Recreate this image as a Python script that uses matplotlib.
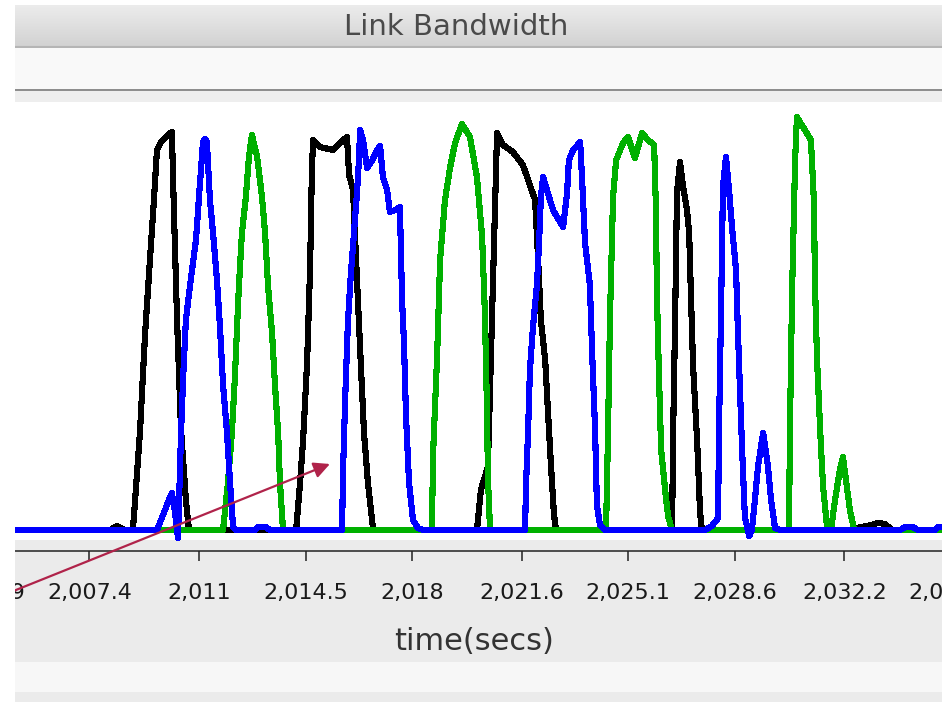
import matplotlib
matplotlib.use("Agg")
import matplotlib.pyplot as plt
import numpy as np
from matplotlib.patches import Rectangle
from matplotlib.ticker import FixedLocator, FuncFormatter

plt.rcParams["font.family"] = ["DejaVu Sans"]

# ---- per-flow link bandwidth samples: time (s) and bandwidth (Mbps) ----
black_t = [2004.96, 2008.08, 2008.31, 2008.54, 2008.83, 2009.06, 2009.23, 2009.39, 2009.52, 2009.62,
           2009.75, 2009.95, 2010.11, 2010.18, 2010.28, 2010.41, 2010.57, 2010.67,
           2014.19, 2014.32, 2014.42, 2014.55, 2014.65, 2014.71, 2014.75, 2014.98, 2015.40, 2015.86,
           2015.93, 2016.06, 2016.12, 2016.22, 2016.32, 2016.42, 2016.55, 2016.72,
           2020.13, 2020.26, 2020.49, 2020.79, 2020.99, 2021.31, 2021.64, 2021.87, 2022.04, 2022.14,
           2022.23, 2022.37, 2022.46, 2022.56, 2022.66, 2022.73,
           2026.54, 2026.57, 2026.64, 2026.70, 2026.80, 2026.90, 2027.03, 2027.10, 2027.16, 2027.23,
           2027.36, 2027.46, 2027.52,
           2032.38, 2032.71, 2032.98, 2033.30, 2033.53, 2033.76, 2035.41]
black_bw = [0, 0, 1.0, 0, 0, 23.7, 48.0, 65.9, 80.5, 92.7, 94.6, 96.1, 97.1, 76.8, 51.2, 24.4, 7.3, 0,
            0, 11.5, 22.0, 40.7, 64.1, 88.5, 95.1, 93.4, 92.7, 95.9, 86.6, 82.9, 72.4, 56.1, 39.8, 23.7, 11.5, 0,
            0, 9.8, 15.4, 96.8, 93.9, 92.2, 89.0, 84.1, 80.5, 65.9, 51.2, 41.5, 29.3, 15.9, 3.7, 0,
            0, 22.0, 52.0, 82.2, 89.8, 83.7, 78.0, 72.4, 56.8, 39.8, 22.0, 4.1, 0,
            0, 0.7, 1.0, 1.7, 1.5, 0, 0]

blue_t = [2004.96, 2009.62, 2009.82, 2010.05, 2010.11, 2010.21, 2010.31, 2010.41, 2010.48, 2010.57,
          2010.70, 2010.90, 2011.00, 2011.13, 2011.20, 2011.26, 2011.36, 2011.49, 2011.59, 2011.69,
          2011.79, 2011.92, 2012.02, 2012.12, 2012.22,
          2012.84, 2012.94, 2013.20, 2013.33,
          2015.70, 2015.73, 2015.80, 2015.89, 2015.99, 2016.09, 2016.19, 2016.26, 2016.29, 2016.39,
          2016.52, 2016.68, 2016.85, 2016.95, 2017.04, 2017.18, 2017.27, 2017.44, 2017.60, 2017.67,
          2017.73, 2017.80, 2017.90, 2018.03, 2018.19, 2018.36,
          2021.71, 2021.74, 2021.81, 2021.87, 2021.97, 2022.10, 2022.17, 2022.23, 2022.30, 2022.63,
          2022.96, 2023.09, 2023.15, 2023.29, 2023.52, 2023.58, 2023.68, 2023.84, 2023.91, 2024.01,
          2024.07, 2024.17, 2024.34,
          2027.62, 2027.85, 2028.05, 2028.08, 2028.15, 2028.21, 2028.31, 2028.41, 2028.51, 2028.64,
          2028.70, 2028.77, 2028.84, 2028.93, 2029.07, 2029.16, 2029.26, 2029.36, 2029.53, 2029.69,
          2029.79, 2029.92, 2030.08,
          2034.03, 2034.19, 2034.45, 2034.62, 2035.18, 2035.27, 2035.41]
blue_bw = [0, 0, 3.7, 8.0, 9.0, 4.4, -2.0, 23.7, 37.3, 51.2, 59.3, 70.7, 81.2, 94.6, 95.4, 94.6, 80.5,
           70.0, 61.0, 49.5, 35.4, 23.7, 11.5, 0.7, 0,
           0, 0.7, 0.7, 0,
           0, 13.9, 31.7, 50.5, 62.7, 72.4, 82.2, 91.0, 97.6, 95.1, 88.3, 90.0, 92.7, 93.7, 86.1, 82.9,
           77.6, 78.0, 78.8, 56.1, 46.3, 27.6, 11.5, 2.4, 0.5, 0,
           0, 10.5, 24.4, 39.0, 49.5, 59.8, 70.0, 81.2, 86.1, 78.0, 73.9, 82.2, 90.2, 92.7, 94.6, 86.1,
           70.0, 59.8, 43.9, 24.4, 6.1, 1.2, 0,
           0, 1.0, 2.9, 24.4, 54.4, 83.7, 91.0, 82.9, 73.7, 63.4, 48.8, 34.1, 19.5, 3.2, -1.5, 0, 7.3,
           15.4, 23.7, 15.4, 7.3, 0.5, 0,
           0, 0.7, 0.7, 0, 0, 0.7, 0.7]

green_t = [2004.96, 2011.79, 2011.95, 2012.08, 2012.18, 2012.25, 2012.31, 2012.41, 2012.54, 2012.64,
           2012.74, 2012.91, 2013.07, 2013.17, 2013.27, 2013.40, 2013.50, 2013.60, 2013.66, 2013.76,
           2018.65, 2018.69, 2018.82, 2018.92, 2019.08, 2019.25, 2019.41, 2019.64, 2019.90, 2020.13,
           2020.30, 2020.39, 2020.46, 2020.49, 2020.56,
           2024.37, 2024.43, 2024.50, 2024.60, 2024.70, 2024.93, 2025.09, 2025.32, 2025.55, 2025.75,
           2025.95, 2026.01, 2026.04, 2026.11, 2026.18, 2026.31, 2026.41, 2026.54,
           2030.38, 2030.41, 2030.48, 2030.58, 2030.64, 2030.84, 2031.10, 2031.20, 2031.23, 2031.30,
           2031.37, 2031.43, 2031.50, 2031.63, 2031.76, 2031.89, 2032.05, 2032.15, 2032.25, 2032.38,
           2032.52, 2035.41]
green_bw = [0, 0, 11.5, 23.7, 37.3, 49.5, 59.3, 72.4, 81.2, 91.0, 96.3, 91.0, 81.2, 72.4, 59.3, 48.0,
            34.9, 23.7, 11.5, 0,
            0, 18.8, 42.2, 65.9, 80.5, 88.5, 94.4, 99.0, 95.9, 86.1, 71.5, 52.9, 29.3, 12.9, 0,
            0, 22.0, 52.0, 81.2, 90.2, 94.4, 95.9, 90.7, 96.8, 95.1, 93.9, 78.0, 57.8, 37.3, 19.5, 9.8,
            3.2, 0,
            0, 24.4, 57.8, 90.2, 100.7, 98.3, 95.1, 79.8, 61.0, 41.5, 30.0, 20.2, 10.5, 0.7, 0, 7.3,
            14.6, 17.8, 12.2, 4.9, 0, 0]

tick_values = [2003.9, 2007.4, 2011.0, 2014.5, 2018.0, 2021.6, 2025.1, 2028.6, 2032.2, 2035.7]

title_text = "Link Bandwidth"
xlabel_text = "time(secs)"

# ---- figure and window chrome ----
W, H, DPI = 942, 702, 100
fig = plt.figure(figsize=(W / DPI, H / DPI), dpi=DPI, facecolor="white")


def frac_box(x0, y0, x1, y1):
    """Pixel box (top-left origin) -> figure-fraction [left, bottom, width, height]."""
    return [x0 / W, 1 - y1 / H, (x1 - x0) / W, (y1 - y0) / H]


def band(x0, y0, x1, y1, color, z=-2):
    l, b, w, h = frac_box(x0, y0, x1, y1)
    fig.add_artist(Rectangle((l, b), w, h, transform=fig.transFigure,
                             facecolor=color, edgecolor="none", zorder=z))


band(15, 48, 942, 89, "#f9f9f9")
band(15, 89, 942, 91, "#8e8e8e")
band(15, 91, 942, 102, "#eeeeee")
band(15, 102, 942, 540, "#ffffff")
band(15, 540, 942, 662, "#ebebeb")
band(15, 662, 942, 692, "#f7f7f7")
band(15, 692, 942, 702, "#ebebeb")

# title bar with a soft vertical gradient
tb = fig.add_axes(frac_box(15, 5, 942, 48), zorder=-1)
grad = np.linspace(0, 1, 64).reshape(-1, 1)
top_c = np.array([0.925, 0.925, 0.925])
bot_c = np.array([0.82, 0.82, 0.82])
img = top_c + (bot_c - top_c) * grad[..., None]
tb.imshow(np.repeat(img, 2, axis=1), aspect="auto", extent=(0, 1, 0, 1), interpolation="bilinear")
tb.axhline(0.02, color="#b5b5b5", lw=1.5)
tb.set_axis_off()
fig.text(456 / W, 1 - 27 / H, title_text, ha="center", va="center",
         fontsize=21, color="#4a4a4a")

# ---- main plot ----
px_per_s = 1 / 0.032846
t_at_px0 = 2004.464
ax = fig.add_axes(frac_box(-80, 102, 1042, 551))
ax.set_facecolor("none")
ax.set_xlim(t_at_px0 - 80 / px_per_s, t_at_px0 + 1042 / px_per_s)
ax.set_ylim(-21 / 4.1, 428 / 4.1)

lw = 3.7
ax.plot(black_t, black_bw, color="#000000", lw=lw, antialiased=False, zorder=2)
ax.plot(green_t, green_bw, color="#00b000", lw=lw, antialiased=False, zorder=3)
ax.plot(blue_t, blue_bw, color="#0000ff", lw=lw, antialiased=False, zorder=4)

for side in ("top", "left", "right"):
    ax.spines[side].set_visible(False)
ax.spines["bottom"].set_color("#222222")
ax.spines["bottom"].set_linewidth(1.1)
ax.set_yticks([])


def time_label(v, _pos):
    s = f"{v:,.1f}"
    return s[:-2] if s.endswith(".0") else s


ax.xaxis.set_major_locator(FixedLocator(tick_values))
ax.xaxis.set_major_formatter(FuncFormatter(time_label))
ax.tick_params(axis="x", direction="out", length=7.5, width=1.1, color="#222222",
               pad=15.5, labelsize=16, labelcolor="#1a1a1a")

ax.set_xlabel(xlabel_text, fontsize=22, color="#333333", va="center")
ax.xaxis.set_label_coords((474 + 80) / 1122, (551 - 641) / 449)

# left page margin
fig.add_artist(Rectangle((0, 0), 15 / W, 1, transform=fig.transFigure,
                         facecolor="white", edgecolor="none", zorder=5))

# pointer arrow into the rising edge of the blue flow
ax.annotate("", xy=(2015.30, 16.1), xycoords="data",
            xytext=(-4, H - 598), textcoords="figure pixels",
            arrowprops=dict(arrowstyle="-|>", color="#b0234a", lw=1.6,
                            mutation_scale=24, shrinkA=0, shrinkB=0),
            annotation_clip=False, zorder=6)

fig.savefig("out.png", dpi=DPI, facecolor="white")
